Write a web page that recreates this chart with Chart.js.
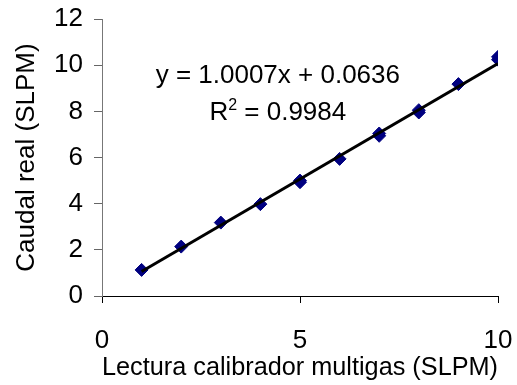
<!DOCTYPE html>
<html>
<head>
<meta charset="utf-8">
<script src="https://cdn.jsdelivr.net/npm/chart.js@4"></script>
<style>
  html,body{margin:0;padding:0;background:#fff;}
  #wrap{width:517px;height:385px;}
</style>
</head>
<body>
<div id="wrap"><canvas id="Chart" width="517" height="385"></canvas></div>
<script>
// lectura del calibrador (x) vs caudal real (y)
const lectura = [1, 2, 3, 4, 5, 5, 6, 7, 7, 8, 8, 9, 10, 10];
const caudal  = [1.13, 2.14, 3.18, 3.98, 4.93, 5.00, 5.94, 6.94, 7.04, 7.95, 8.05, 9.18, 10.24, 10.36];
// recta de ajuste (extremos de y = 1.0007x + 0.0636)
const trendX = [1, 10];
const trendY = [1.0643, 10.0706];
const ecuacion = "y = 1.0007x + 0.0636";
const r2Valor = "0.9984";
const xTicks = [0, 5, 10];
const yTicks = [0, 2, 4, 6, 8, 10, 12];

const fontFam = "'Liberation Sans', Arial, sans-serif";
const fs = 26;

const etiquetas = {
    id: "etiquetas",
    afterDatasetsDraw(chart) {
        const ctx = chart.ctx;
        const sx = chart.scales.x, sy = chart.scales.y;
        const cx = sx.getPixelForValue(4.44);
        ctx.save();
        ctx.fillStyle = "#000";
        ctx.font = fs + "px " + fontFam;
        ctx.textAlign = "center";
        ctx.textBaseline = "alphabetic";
        ctx.fillText(ecuacion, cx, sy.getPixelForValue(9.23));
        // R^2 con superindice
        const y2 = sy.getPixelForValue(7.63);
        const parte1 = "R", parte2 = " = " + r2Valor;
        const w1 = ctx.measureText(parte1).width;
        ctx.font = "16px " + fontFam;
        const ws = ctx.measureText("2").width;
        ctx.font = fs + "px " + fontFam;
        const w2 = ctx.measureText(parte2).width;
        let x0 = cx - (w1 + ws + w2) / 2;
        ctx.textAlign = "left";
        ctx.fillText(parte1, x0, y2);
        ctx.font = "16px " + fontFam;
        ctx.fillText("2", x0 + w1, y2 - 10);
        ctx.font = fs + "px " + fontFam;
        ctx.fillText(parte2, x0 + w1 + ws, y2);
        ctx.restore();
    }
};

const puntos = lectura.map((v, i) => ({x: v, y: caudal[i]}));
const recta = trendX.map((v, i) => ({x: v, y: trendY[i]}));

const ctx = document.getElementById("Chart");
new Chart(ctx, {
    type: "scatter",
    data: {
        datasets: [
            {
                label: "Ajuste",
                type: "line",
                data: recta,
                borderColor: "#000",
                borderWidth: 3,
                pointRadius: 0,
                fill: false,
                order: 0
            },
            {
                label: "Datos",
                data: puntos,
                pointStyle: "rectRot",
                pointRadius: 6.5,
                backgroundColor: "#000080",
                borderColor: "#000080",
                borderWidth: 1,
                order: 1
            }
        ]
    },
    options: {
        responsive: false,
        animation: false,
        layout: {padding: {top: 19, right: 19, bottom: 0, left: 0}},
        plugins: {legend: {display: false}, tooltip: {enabled: false}},
        scales: {
            x: {
                type: "linear",
                min: 0, max: 10,
                afterBuildTicks: s => { s.ticks = xTicks.map(v => ({value: v})); },
                afterFit: s => { s.height = 89; s.paddingLeft = 0; s.paddingRight = 0; },
                grid: {drawOnChartArea: false, drawTicks: true, tickLength: 7, color: "#000", lineWidth: 1},
                border: {display: true, color: "#000", width: 1},
                ticks: {color: "#000", font: {family: fontFam, size: fs}, padding: 22, maxRotation: 0},
                title: {display: true, text: "Lectura calibrador multigas (SLPM)", color: "#000",
                        font: {family: fontFam, size: fs}, padding: {top: 0, bottom: 2}}
            },
            y: {
                type: "linear",
                min: 0, max: 12,
                afterBuildTicks: s => { s.ticks = yTicks.map(v => ({value: v})); },
                afterFit: s => { s.width = 102; s.paddingTop = 0; s.paddingBottom = 0; },
                grid: {drawOnChartArea: false, drawTicks: true, tickLength: 8, color: "#666", lineWidth: 1},
                border: {display: true, color: "#777", width: 1},
                ticks: {color: "#000", font: {family: fontFam, size: fs}, padding: 11},
                title: {display: true, text: "Caudal real (SLPM)", color: "#000",
                        font: {family: fontFam, size: fs}, padding: {top: 11, bottom: 0}}
            }
        }
    },
    plugins: [etiquetas]
});
</script>
</body>
</html>
